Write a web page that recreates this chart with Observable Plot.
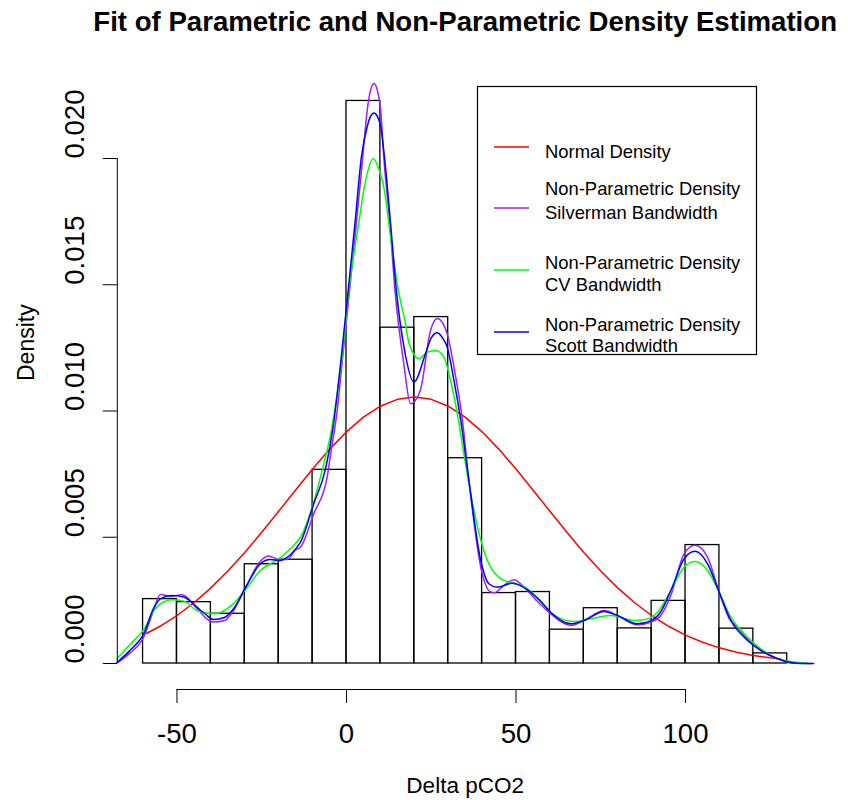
<!DOCTYPE html>
<html><head><meta charset="utf-8">
<script src="https://cdn.jsdelivr.net/npm/d3@7"></script>
<script src="https://cdn.jsdelivr.net/npm/@observablehq/plot@0.6"></script>
<style>
body{margin:0;background:#fff;}
#chart{width:848px;height:800px;}
</style></head><body><div id="chart"></div>
<script>
// ---- data ----
const breaks = [-60,-50,-40,-30,-20,-10,0,10,20,30,40,50,60,70,80,90,100,110,120,130];
const densities = [0.00255,0.00243,0.00197,0.00393,0.00411,0.00767,0.02228,0.01330,0.01372,0.00813,0.00279,0.00283,0.00134,0.00219,0.00139,0.00248,0.00469,0.00138,0.00040];

const normalCurve = [[-59,0.001188],[-55,0.001474],[-50,0.001900],[-45,0.002406],[-40,0.002994],[-35,0.003662],[-30,0.004400],[-25,0.005196],[-20,0.006029],[-15,0.006874],[-10,0.007702],[-5,0.008481],[0,0.009175],[5,0.009755],[10,0.010191],[15,0.010462],[20,0.010554],[25,0.010462],[30,0.010191],[35,0.009755],[40,0.009175],[45,0.008481],[50,0.007702],[55,0.006874],[60,0.006029],[65,0.005196],[70,0.004400],[75,0.003662],[80,0.002994],[85,0.002406],[90,0.001900],[95,0.001474],[100,0.001124],[105,0.000842],[110,0.000620],[115,0.000449],[120,0.000319],[125,0.000223],[128,0.000178]];

const silvermanCurve = [[-67.7,0.00002],[-64,0.0004],[-59.8,0.00105],[-56.9,0.0021],[-54.9,0.00273],[-51.5,0.00266],[-48.5,0.00272],[-44.1,0.00218],[-41.5,0.0018],[-39.2,0.00164],[-36,0.0017],[-33.3,0.0021],[-29.8,0.0030],[-25.4,0.00405],[-23,0.00426],[-20,0.00412],[-17.5,0.00412],[-15,0.0045],[-13.6,0.0046],[-9.65,0.00593],[-5.7,0.00738],[-4.7,0.00827],[-2.75,0.0100],[-1.3,0.0119],[0.9,0.01478],[2.9,0.01742],[4.8,0.02006],[6.1,0.0219],[7.1,0.0227],[8.1,0.02297],[9.1,0.0227],[10.1,0.0219],[11.0,0.02006],[12.8,0.01742],[14.3,0.01478],[16.9,0.01187],[18.9,0.01029],[20.2,0.0104],[21.8,0.01082],[24.8,0.01319],[26.8,0.01366],[29.7,0.01306],[31.7,0.01174],[34.2,0.00963],[36.1,0.00725],[39.6,0.00382],[42.5,0.00283],[43.5,0.0028],[46.4,0.00309],[49.4,0.00332],[52.4,0.00302],[56,0.0025],[60.2,0.00197],[66.1,0.00151],[70,0.0017],[76,0.0021],[79.9,0.0019],[85.8,0.00153],[89.8,0.00164],[92.7,0.0019],[95.7,0.0027],[99.6,0.00435],[102.8,0.00468],[106.5,0.00421],[109.9,0.00283],[112.9,0.00177],[115.3,0.00144],[117.3,0.0011],[122.2,0.00052],[127.2,0.00019],[132,0.00001],[137,0]];

const cvCurve = [[-67.7,0.00019],[-63.5,0.0008],[-59.8,0.00134],[-56.4,0.00217],[-51.5,0.00252],[-48,0.00247],[-44.1,0.0021],[-39.2,0.00197],[-36,0.0021],[-33.3,0.00237],[-29.8,0.00292],[-25.4,0.00368],[-19.5,0.00419],[-15.6,0.00467],[-13.6,0.0050],[-9.65,0.00639],[-6.7,0.00791],[-4.7,0.00905],[-2.75,0.0107],[-1.3,0.01214],[0.7,0.01478],[3.6,0.01742],[5.1,0.01874],[6.5,0.0196],[7.9,0.0200],[9.5,0.0196],[11.2,0.01874],[12.5,0.01742],[15.3,0.01478],[17.4,0.01346],[18.4,0.0127],[21.4,0.01207],[23.8,0.01233],[26.3,0.0124],[28.7,0.01214],[30.7,0.01121],[32.7,0.00989],[34.6,0.00831],[36,0.0072],[39.6,0.0049],[41.5,0.0041],[42.5,0.00382],[46.4,0.00329],[49.4,0.00318],[53.4,0.00296],[57,0.0025],[60.2,0.00203],[67.1,0.00166],[72,0.00177],[77.9,0.0019],[84.8,0.0017],[87.8,0.00173],[91.7,0.00203],[95.7,0.0029],[99.6,0.00382],[102.8,0.00404],[106.5,0.00368],[109.9,0.00283],[113.4,0.00183],[117.3,0.00118],[122.2,0.00058],[127.2,0.00019],[136,0.00001]];

const scottCurve = [[-67.7,0.00004],[-64,0.0005],[-59.8,0.00118],[-56.9,0.00218],[-54.9,0.00256],[-51.5,0.00269],[-48,0.00263],[-44.1,0.00223],[-41.5,0.00194],[-39.2,0.00174],[-36,0.00182],[-33.3,0.00217],[-29.8,0.0030],[-25.4,0.00395],[-22.5,0.00412],[-19.5,0.00408],[-17.6,0.00419],[-14.6,0.00461],[-13.6,0.0048],[-9.65,0.00633],[-6.2,0.0077],[-4,0.0093],[-1.8,0.0118],[0.5,0.01478],[2.5,0.01742],[4.4,0.02006],[6.1,0.02126],[7.1,0.02167],[8.1,0.0218],[9.1,0.02167],[10.1,0.02126],[11.2,0.02006],[13.0,0.01742],[14.7,0.01478],[17.0,0.0125],[19.9,0.01115],[23.3,0.01227],[25,0.0129],[26.8,0.0131],[28.3,0.0129],[29.7,0.01253],[31.7,0.01121],[33.7,0.00963],[36.1,0.00725],[39.6,0.00408],[42,0.00316],[44.5,0.00302],[48.9,0.00318],[53.4,0.00292],[57,0.0025],[60.2,0.00203],[66.1,0.00157],[70,0.0017],[76,0.00206],[79.9,0.0019],[85.8,0.00157],[89.8,0.0017],[92.7,0.00205],[95.7,0.0029],[99.6,0.00415],[102.8,0.00445],[106.5,0.00395],[109.9,0.00283],[113.4,0.0017],[117.3,0.00104],[122.2,0.00052],[127.2,0.00019],[132.1,0.00002],[137.8,0]];

const xTicks = [-50,0,50,100];
const yTicks = [0,0.005,0.010,0.015,0.020];
const titleText = "Fit of Parametric and Non-Parametric Density Estimation";
const xLabel = "Delta pCO2";
const yLabel = "Density";
const legendLabels = [["Normal Density"],["Non-Parametric Density","Silverman Bandwidth"],["Non-Parametric Density","CV Bandwidth"],["Non-Parametric Density","Scott Bandwidth"]];
const legendColors = ["#ff0000","#a020f0","#00ff00","#0000ff"];

// ---- layout ----
const W = 848, H = 800;
const mL = 116.8, mR = 35.5, mT = 80, mB = 111;
const xDom = [-67.6, 137.6];
const yDom = [-0.00103, 0.02309];
const font = "'Liberation Sans', Arial, Helvetica, sans-serif";

const bars = densities.map((d, i) => ({x1: breaks[i], x2: breaks[i + 1], y: d}));
const fx = d => d[0], fy = d => d[1];

const svg = Plot.plot({
  width: W, height: H,
  marginLeft: mL, marginRight: mR, marginTop: mT, marginBottom: mB,
  x: {domain: xDom},
  y: {domain: yDom},
  style: {fontFamily: font, background: "white", color: "black", overflow: "visible"},
  marks: [
    Plot.rect(bars, {x1: "x1", x2: "x2", y1: 0, y2: "y", fill: "none", stroke: "black", strokeWidth: 1.3}),
    Plot.line(normalCurve, {x: fx, y: fy, stroke: legendColors[0], strokeWidth: 1.5}),
    Plot.line(silvermanCurve, {x: fx, y: fy, stroke: legendColors[1], strokeWidth: 1.5, curve: "monotone-x"}),
    Plot.line(cvCurve, {x: fx, y: fy, stroke: legendColors[2], strokeWidth: 1.5, curve: "monotone-x"}),
    Plot.line(scottCurve, {x: fx, y: fy, stroke: legendColors[3], strokeWidth: 1.5, curve: "monotone-x"}),
    Plot.axisX({ticks: xTicks, tickSize: 14, tickPadding: 20, fontSize: 27.6, label: null, tickFormat: d => String(d), stroke: "black"}),
    Plot.ruleY([yDom[0]], {x1: xTicks[0], x2: xTicks[xTicks.length - 1], stroke: "black"}),
    Plot.axisY({ticks: yTicks, tickSize: 14, tickFormat: () => "", label: null, stroke: "black"}),
    Plot.ruleX([xDom[0]], {y1: yTicks[0], y2: yTicks[yTicks.length - 1], stroke: "black"}),
    Plot.text(yTicks, {y: d => d, frameAnchor: "left", dx: -42, rotate: -90, lineAnchor: "middle", text: d => d3.format(".3f")(d), fontSize: 27.6, fill: "black"}),
    Plot.text([yLabel], {text: d => d, frameAnchor: "left", dx: -91, dy: -4, rotate: -90, lineAnchor: "middle", fontSize: 23, fill: "black"}),
    Plot.text([xLabel], {text: d => d, frameAnchor: "bottom", dy: 96, lineAnchor: "middle", fontSize: 22.5, fill: "black"}),
    Plot.text([titleText], {text: d => d, frameAnchor: "top", dy: -58, lineAnchor: "middle", fontSize: 27.6, fontWeight: "bold", fill: "black"})
  ]
});

// ---- legend ----
const g = d3.select(svg).append("g").attr("font-family", font).attr("font-size", 18.4).attr("text-anchor", "start");
g.append("rect").attr("x", 477.5).attr("y", 86.5).attr("width", 279).attr("height", 268)
  .attr("fill", "white").attr("stroke", "black").attr("stroke-width", 1.2);
const lineYs = [147, 208, 270, 332];
const textYs = [[151], [188, 212.5], [262.5, 284], [324, 345]];
legendLabels.forEach((lines, i) => {
  g.append("line").attr("x1", 494).attr("x2", 529).attr("y1", lineYs[i]).attr("y2", lineYs[i])
    .attr("stroke", legendColors[i]).attr("stroke-width", 1.5);
  lines.forEach((t, j) => {
    g.append("text").attr("x", 545).attr("y", textYs[i][j]).attr("dominant-baseline", "central")
      .attr("text-anchor", "start").attr("fill", "black").text(t);
  });
});

document.getElementById("chart").appendChild(svg);
</script></body></html>
